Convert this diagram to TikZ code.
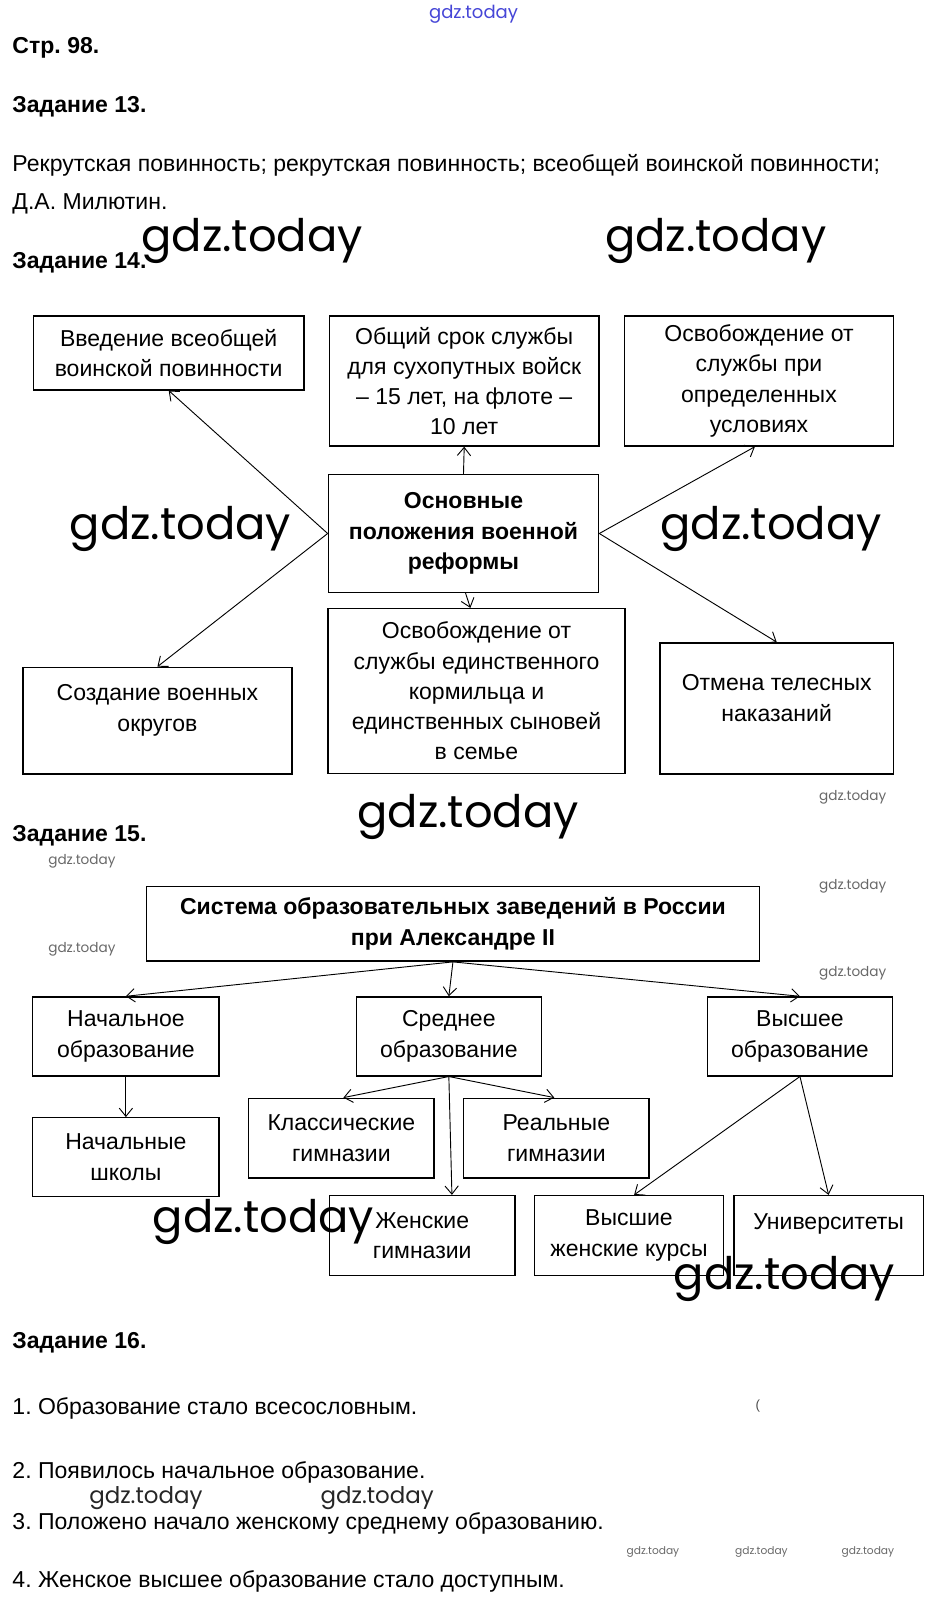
\documentclass[tikz,border=0pt]{standalone}
\usepackage{fontspec}
\setmainfont{Liberation Sans}
\newfontfamily\wmfont{Poppins}
\usetikzlibrary{arrows.meta,positioning}
\definecolor{wmgray}{RGB}{105,105,105}
\definecolor{wmblue}{RGB}{70,70,215}
\frenchspacing

\begin{document}
\begin{tikzpicture}[
    x=1pt, y=-1pt,
    every node/.style={align=center, inner sep=0pt, font=\fontsize{22.5}{29.5}\selectfont},
    block/.style={rectangle, draw=black, line width=1.4pt, text centered},
    mainblock/.style={block, font=\fontsize{22.5}{30}\selectfont\bfseries},
    arrow/.style={line width=0.9pt, -{Straight Barb[length=8pt,width=13pt]}},
    heading/.style={anchor=base west, font=\fontsize{22.5}{25}\selectfont\bfseries},
    plain/.style={anchor=base west},
    wm_big/.style={anchor=base west, font=\fontsize{43.8}{44}\wmfont},
    wm_mid/.style={anchor=base west, font=\fontsize{22.4}{23}\wmfont, text=black!85},
    wm_small/.style={anchor=base west, font=\fontsize{13.3}{13.5}\wmfont, text=wmgray},
    wm_tiny/.style={anchor=base west, font=\fontsize{10.4}{10.5}\wmfont, text=wmgray}
]

\path[fill=white] (0,0) rectangle (919,1568);

% Header text
\node[wm_small, text=wmblue, font=\fontsize{17.6}{18}\wmfont] (wm_top) at (419,18) {gdz.today};
\node[heading] (page_title) at (12,52) {Стр. 98.};
\node[heading] (task_13) at (12,110) {Задание 13.};
\node[plain] (answer_13a) at (12,168) {Рекрутская повинность; рекрутская повинность; всеобщей воинской повинности;};
\node[plain] (answer_13b) at (12,205) {Д.А. Милютин.};
\node[wm_big] (wm_1) at (138,246) {gdz.today};
\node[wm_big] (wm_2) at (591,246) {gdz.today};
\node[heading] (task_14) at (12,262) {Задание 14.};

% Military reform scheme
\node[mainblock, minimum width=264pt, minimum height=115pt] (reform_main) at (452.8,521.2) {Основные\\положения военной\\реформы};

\node[block, minimum width=264pt, minimum height=72pt] (reform_conscription) at (164.8,344.8) {Введение всеобщей\\воинской повинности};
\node[block, minimum width=263pt, minimum height=127pt] (reform_term) at (453.5,372.2) {Общий срок службы\\для сухопутных войск\\– 15 лет, на флоте –\\10 лет};
\node[block, minimum width=263pt, minimum height=127pt] (reform_exempt) at (741.5,372.2) {Освобождение от\\службы при\\определенных\\условиях};
\node[block, minimum width=263pt, minimum height=104pt, label={[yshift=10pt]center:Создание военных\\округов}] (reform_districts) at (153.8,704) {};
\node[block, minimum width=290pt, minimum height=161pt] (reform_breadwinner) at (465.5,675.1) {Освобождение от\\службы единственного\\кормильца и\\единственных сыновей\\в семье};
\node[block, minimum width=228pt, minimum height=128pt, label={[yshift=10pt]center:Отмена телесных\\наказаний}] (reform_punishment) at (758.8,692) {};

\draw[arrow] (reform_main.west) -- (reform_conscription.south);
\draw[arrow] (reform_main.north) -- (reform_term.south);
\draw[arrow] (reform_main.east) -- ([xshift=-4pt]reform_exempt.south);
\draw[arrow] (reform_main.west) -- (reform_districts.north);
\draw[arrow] ([xshift=2pt]reform_main.south) -- ([xshift=-6pt]reform_breadwinner.north);
\draw[arrow] (reform_main.east) -- (reform_punishment.north);

\node[wm_big] (wm_3) at (68,527) {gdz.today};
\node[wm_big] (wm_4) at (645,527) {gdz.today};
\node[wm_small] (wm_5) at (800,782) {gdz.today};
\node[wm_big] (wm_6) at (349,808) {gdz.today};

\node[heading] (task_15) at (12,822) {Задание 15.};
\node[wm_small] (wm_7) at (47,845) {gdz.today};
\node[wm_small] (wm_8) at (800,869) {gdz.today};
\node[wm_small] (wm_9) at (47,931) {gdz.today};
\node[wm_small] (wm_10) at (800,954) {gdz.today};

% Education scheme
\node[mainblock, minimum width=599pt, minimum height=73pt] (edu_system) at (442.5,902.5) {Система образовательных заведений в России\\при Александре II};

\node[block, minimum width=182pt, minimum height=77pt] (edu_primary) at (123,1012.5) {Начальное\\образование};
\node[block, minimum width=181pt, minimum height=77pt] (edu_secondary) at (438.5,1012.5) {Среднее\\образование};
\node[block, minimum width=181pt, minimum height=77pt] (edu_higher) at (781.5,1012.5) {Высшее\\образование};

\node[block, minimum width=182pt, minimum height=77pt] (edu_schools) at (123,1130.5) {Начальные\\школы};
\node[block, minimum width=181pt, minimum height=78pt] (edu_classical) at (333.5,1112) {Классические\\гимназии};
\node[block, minimum width=181pt, minimum height=78pt] (edu_real) at (543.5,1112) {Реальные\\гимназии};
\node[block, minimum width=181pt, minimum height=78pt] (edu_female_gym) at (412.5,1207) {Женские\\гимназии};
\node[block, minimum width=185pt, minimum height=78pt] (edu_female_courses) at (614.5,1207) {Высшие\\женские курсы};
\node[block, minimum width=185pt, minimum height=78pt, label={[yshift=11pt]center:Университеты}] (edu_universities) at (809.5,1207) {};

\draw[arrow] (edu_system.south) -- (edu_primary.north);
\draw[arrow] (edu_system.south) -- (edu_secondary.north);
\draw[arrow] (edu_system.south) -- (edu_higher.north);
\draw[arrow] (edu_primary.south) -- (edu_schools.north);
\draw[arrow] (edu_secondary.south) -- ([xshift=2pt]edu_classical.north);
\draw[arrow] (edu_secondary.south) -- ([xshift=-2pt]edu_real.north);
\draw[arrow] (edu_secondary.south) -- ([xshift=29pt]edu_female_gym.north);
\draw[arrow] (edu_higher.south) -- ([xshift=5pt]edu_female_courses.north);
\draw[arrow] (edu_higher.south) -- (edu_universities.north);

\node[wm_big] (wm_11) at (149,1204) {gdz.today};
\node[wm_big] (wm_12) at (658,1260) {gdz.today};

% Task 16
\node[heading] (task_16) at (12,1317) {Задание 16.};
\node[plain] (answer_16a) at (12,1382) {1. Образование стало всесословным.};
\node[wm_tiny, text=black!70, font=\fontsize{13}{13}\selectfont] (stray_mark) at (738,1377) {(};
\node[plain] (answer_16b) at (12,1444) {2. Появилось начальное образование.};
\node[wm_mid] (wm_13) at (87,1469) {gdz.today};
\node[wm_mid] (wm_14) at (313,1469) {gdz.today};
\node[plain] (answer_16c) at (12,1494) {3. Положено начало женскому среднему образованию.};
\node[wm_tiny] (wm_15) at (612,1519) {gdz.today};
\node[wm_tiny] (wm_16) at (718,1519) {gdz.today};
\node[wm_tiny] (wm_17) at (822,1519) {gdz.today};
\node[plain] (answer_16d) at (12,1551) {4. Женское высшее образование стало доступным.};

\end{tikzpicture}
\end{document}
